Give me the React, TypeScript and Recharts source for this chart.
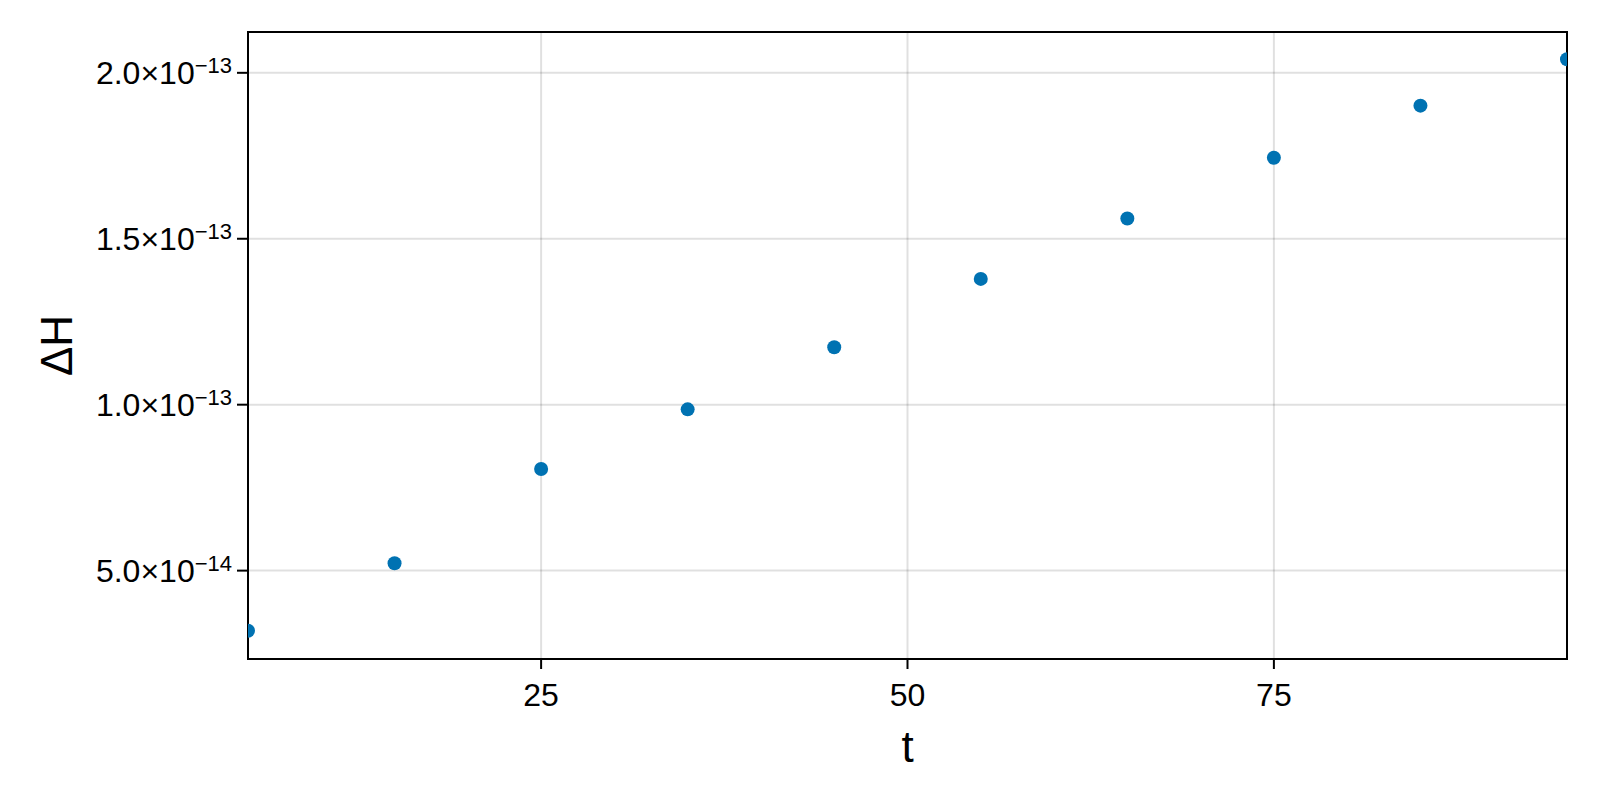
import React from 'react';
import {
    ScatterChart,
    Scatter,
    XAxis,
    YAxis,
    CartesianGrid,
    ReferenceArea,
    Label,
} from 'recharts';

// values
const tValues = [5, 15, 25, 35, 45, 55, 65, 75, 85, 95];
const deltaH = [
    3.19e-14, 5.22e-14, 8.06e-14, 9.86e-14, 1.173e-13,
    1.379e-13, 1.561e-13, 1.744e-13, 1.901e-13, 2.041e-13,
];
const xTicks = [25, 50, 75];
const yTicks = [5e-14, 1e-13, 1.5e-13, 2e-13];
const yTickMantissa = ['5.0', '1.0', '1.5', '2.0'];
const yTickExponent = ['−14', '−13', '−13', '−13'];
const xDomain = [5, 95];
const yDomain = [2.337e-14, 2.123e-13];

const FONT = '"Liberation Sans", Arial, Helvetica, sans-serif';
const BLUE = '#0072B2';

const data = tValues.map((t, i) => ({ t, dh: deltaH[i] }));

const YTick = (props: any) => {
    const { x, y, index } = props;
    return (
        <text x={x} y={y + 11} textAnchor="end" fontFamily={FONT} fill="#000">
            <tspan fontSize={32}>{yTickMantissa[index]}×10</tspan>
            <tspan fontSize={22} dy={-11}>{yTickExponent[index]}</tspan>
        </text>
    );
};

const XTick = (props: any) => {
    const { x, y, payload } = props;
    return (
        <text x={x} y={y + 23} textAnchor="middle" fontFamily={FONT} fontSize={32} fill="#000">
            {payload.value}
        </text>
    );
};

export default function App() {
    return (
        <div style={{ position: 'absolute', left: 0, top: 0, width: 1600, height: 800, background: '#fff' }}>
            <ScatterChart
                width={1600}
                height={800}
                margin={{ top: 32, right: 33, left: 0, bottom: 0 }}
            >
                <CartesianGrid stroke="rgba(0,0,0,0.12)" strokeWidth={2} />
                <XAxis
                    type="number"
                    dataKey="t"
                    domain={xDomain}
                    ticks={xTicks}
                    allowDataOverflow
                    height={141}
                    tickSize={10}
                    tickMargin={14}
                    tick={<XTick />}
                    axisLine={{ stroke: '#000', strokeWidth: 2 }}
                    tickLine={{ stroke: '#000', strokeWidth: 2 }}
                >
                    <Label
                        content={({ viewBox }: any) => (
                            <text
                                x={viewBox.x + viewBox.width / 2}
                                y={762}
                                textAnchor="middle"
                                fontFamily={FONT}
                                fontSize={44}
                                fill="#000"
                            >
                                t
                            </text>
                        )}
                    />
                </XAxis>
                <YAxis
                    type="number"
                    dataKey="dh"
                    domain={yDomain}
                    ticks={yTicks}
                    allowDataOverflow
                    width={248}
                    tickSize={11}
                    tickMargin={5}
                    tick={<YTick />}
                    axisLine={{ stroke: '#000', strokeWidth: 2 }}
                    tickLine={{ stroke: '#000', strokeWidth: 2 }}
                >
                    <Label
                        content={({ viewBox }: any) => {
                            const cy = viewBox.y + viewBox.height / 2;
                            return (
                                <text
                                    x={72}
                                    y={cy}
                                    transform={`rotate(-90, 72, ${cy})`}
                                    textAnchor="middle"
                                    fontFamily={FONT}
                                    fontSize={44}
                                    fill="#000"
                                >
                                    ΔH
                                </text>
                            );
                        }}
                    />
                </YAxis>
                <Scatter
                    data={data}
                    fill={BLUE}
                    isAnimationActive={false}
                    shape={(p: any) => <circle cx={p.cx} cy={p.cy} r={7} fill={BLUE} />}
                />
                {/* box around the plot area */}
                <ReferenceArea
                    x1={xDomain[0]}
                    x2={xDomain[1]}
                    y1={yDomain[0]}
                    y2={yDomain[1]}
                    fill="none"
                    fillOpacity={0}
                    stroke="#000"
                    strokeWidth={2}
                    ifOverflow="visible"
                />
            </ScatterChart>
        </div>
    );
}
